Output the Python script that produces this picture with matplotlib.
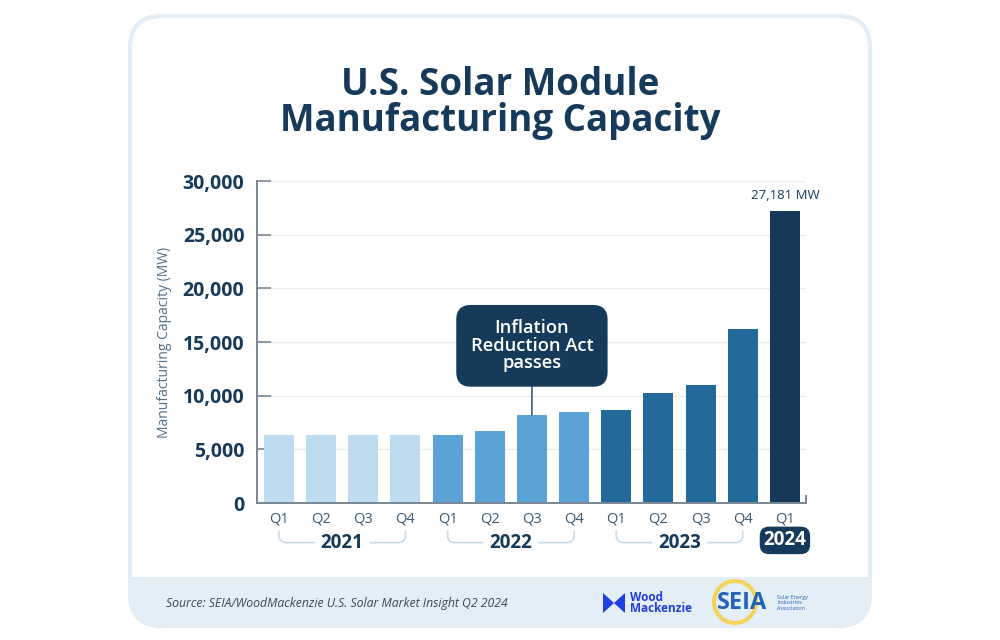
import matplotlib.pyplot as plt
from matplotlib.patches import FancyBboxPatch, Rectangle, Polygon, Circle, PathPatch
from matplotlib.path import Path
import matplotlib.transforms as mtransforms

plt.rcParams['font.family'] = ['Open Sans', 'DejaVu Sans']

# data
quarters = ['Q1', 'Q2', 'Q3', 'Q4', 'Q1', 'Q2', 'Q3', 'Q4', 'Q1', 'Q2', 'Q3', 'Q4', 'Q1']
years = ['2021'] * 4 + ['2022'] * 4 + ['2023'] * 4 + ['2024']
capacity_mw = [6300, 6300, 6300, 6300, 6300, 6700, 8200, 8500, 8700, 10300, 11000, 16200, 27181]
year_colors = {'2021': '#bddcf0', '2022': '#5ba3d7', '2023': '#226a99', '2024': '#16395a'}
yticks = [0, 5000, 10000, 15000, 20000, 25000, 30000]

navy = '#163a59'
grey_text = '#4f6f8a'

fig = plt.figure(figsize=(10, 6.4), dpi=100)

# card / background, drawn in pixel units
bg = fig.add_axes([0, 0, 1, 1], zorder=0)
bg.set_xlim(0, 1000)
bg.set_ylim(640, 0)
bg.axis('off')

card = FancyBboxPatch((130, 16), 740, 610, boxstyle='round,pad=0,rounding_size=32',
                      facecolor='white', edgecolor='#e2edf6', linewidth=3)
bg.add_patch(card)
footer = Rectangle((120, 577), 760, 60, facecolor='#e4eef7', edgecolor='none')
bg.add_patch(footer)
footer.set_clip_path(card)

bg.text(500, 85, 'U.S. Solar Module', ha='center', va='center', fontsize=26.5,
        fontweight='bold', color=navy)
bg.text(500, 121, 'Manufacturing Capacity', ha='center', va='center', fontsize=26.5,
        fontweight='bold', color=navy)

bg.text(166, 603, 'Source: SEIA/WoodMackenzie U.S. Solar Market Insight Q2 2024',
        ha='left', va='center', fontsize=8.8, fontstyle='italic', color='#3b4a58')

# Wood Mackenzie logo
wm_blue = '#1f3fe0'
bg.add_patch(Polygon([(603, 593), (614, 603), (625, 593), (625, 613), (614, 603), (603, 613)],
                     closed=True, facecolor=wm_blue, edgecolor='none'))
bg.text(630, 603, 'Wood\nMackenzie', ha='left', va='center', fontsize=8.5, fontweight='bold',
        color=wm_blue, linespacing=0.85)
# SEIA logo
bg.add_patch(Circle((735, 602), 21, facecolor='none', edgecolor='#f3d35a', linewidth=3))
bg.text(742, 603, 'SEIA', ha='center', va='center', fontsize=17, fontweight='bold',
        color='#2463b4')
bg.text(777, 603, 'Solar Energy\nIndustries\nAssociation', ha='left', va='center',
        fontsize=3.8, color='#2463b4', linespacing=1.1)

# chart
ax = fig.add_axes([0.257, 0.214, 0.549, 0.503], zorder=1)
ax.patch.set_alpha(0)
x = list(range(len(capacity_mw)))
colors = [year_colors[y] for y in years]
ax.bar(x, capacity_mw, width=0.71, color=colors, zorder=2)

ax.set_xlim(-0.52, 12.5)
ax.set_ylim(0, 30000)
ax.set_yticks(yticks)
ax.set_yticklabels([f'{v:,}' for v in yticks], fontsize=14, fontweight='bold', color=navy)
ax.set_xticks(x)
ax.set_xticklabels(quarters, fontsize=10.5, color='#3b5a73')
ax.tick_params(axis='y', direction='in', length=10, width=1.2, color='#7a8793', pad=9)
ax.tick_params(axis='x', length=0, pad=6)
ax.grid(axis='y', color='#ececec', linewidth=1, zorder=0)
ax.set_axisbelow(True)

ax.spines['top'].set_visible(False)
ax.spines['right'].set_bounds(0, 700)
for side in ['left', 'bottom', 'right']:
    ax.spines[side].set_color('#7a8793')
    ax.spines[side].set_linewidth(1.4)

ax.set_ylabel('Manufacturing Capacity (MW)', fontsize=10, color=grey_text)
ax.yaxis.set_label_coords(-0.155, 0.5)

# value label on last bar
ax.text(x[-1], capacity_mw[-1] + 900, f'{capacity_mw[-1]:,} MW', ha='center', va='bottom',
        fontsize=9.5, color=navy)

# IRA annotation
ira_idx = 6
ax.annotate('Inflation\nReduction Act\npasses', xy=(x[ira_idx], capacity_mw[ira_idx]),
            xytext=(x[ira_idx], 14650), ha='center', va='center', fontsize=13.2,
            fontweight='semibold', color='white', linespacing=0.97,
            bbox=dict(boxstyle='round,pad=0.78,rounding_size=0.8', facecolor=navy,
                      edgecolor='none'),
            arrowprops=dict(arrowstyle='-', color='#4a6a82', linewidth=1.3,
                            shrinkA=0, shrinkB=0))

# year brackets under the quarters
blend = mtransforms.blended_transform_factory(ax.transData, ax.transAxes)
y_top, y_bot, r = -0.085, -0.123, 0.02
for yr in ['2021', '2022', '2023']:
    idx = [i for i, y in enumerate(years) if y == yr]
    x0, x1 = idx[0], idx[-1]
    cx = (x0 + x1) / 2
    gap = 0.65
    for start, end in [(x0, cx - gap), (x1, cx + gap)]:
        sgn = 1 if end > start else -1
        verts = [(start, y_top), (start, y_bot + r), (start, y_bot),
                 (start + sgn * 0.2, y_bot), (end, y_bot)]
        codes = [Path.MOVETO, Path.LINETO, Path.CURVE3, Path.CURVE3, Path.LINETO]
        ax.add_patch(PathPatch(Path(verts, codes), transform=blend, facecolor='none',
                               edgecolor='#c7dbea', linewidth=1.2, clip_on=False))
    ax.text(cx, y_bot, yr, transform=blend, ha='center', va='center', fontsize=13.5,
            fontweight='bold', color=navy, clip_on=False)

ax.text(x[-1], y_bot + 0.007, '2024', transform=blend, ha='center', va='center', fontsize=13.5,
        fontweight='bold', color='white',
        bbox=dict(boxstyle='round,pad=0.2,rounding_size=0.5', facecolor=navy, edgecolor='none'))

fig.savefig('out.png', dpi=100)
